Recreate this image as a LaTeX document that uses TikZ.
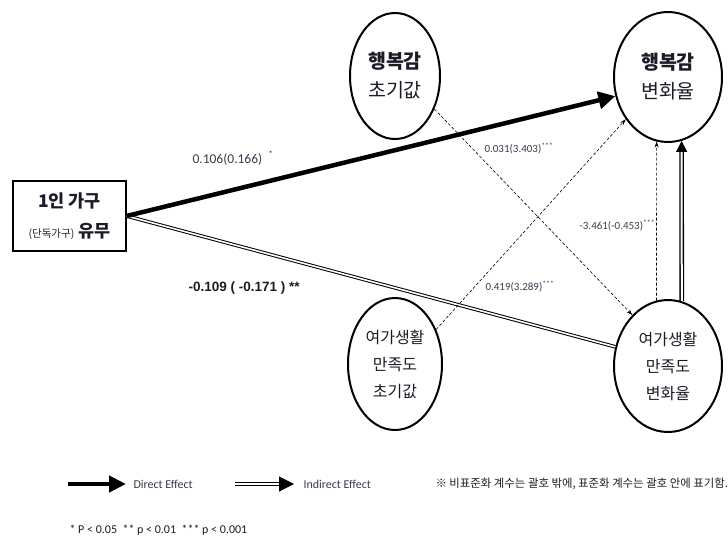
\documentclass[tikz,border=0pt]{standalone}
\usepackage{fontspec}
\setmainfont{Carlito}
\newfontfamily\kr{Noto Sans CJK KR}
\newfontfamily\arialf{Liberation Sans}
\usetikzlibrary{shapes.geometric,arrows.meta}
\definecolor{ink}{RGB}{28,28,40}
\definecolor{lab}{RGB}{55,60,78}

\begin{document}
\begin{tikzpicture}[x=1pt,y=-1pt,
  latent/.style={ellipse, draw, line width=2pt, inner sep=0pt, align=center,
    text=ink, font=\kr\fontsize{19.5}{29}\selectfont},
  latent3/.style={latent, font=\kr\fontsize{16}{27}\selectfont},
  direct/.style={line width=4.5pt, -{Triangle[length=17pt,width=17pt]}},
  indirect/.style={double, line width=1pt, double distance=1.6pt},
  thinpath/.style={densely dashed, line width=0.6pt, -{Stealth[length=6pt,width=4pt]}},
  coef/.style={anchor=west, text=lab, font=\fontsize{11}{13}\selectfont},
  legendtxt/.style={anchor=west, text=lab, font=\fontsize{12}{14}\selectfont},
]
\useasboundingbox (0,0) rectangle (728,539);

% exogenous indicator box
\node[draw, line width=1.3pt, minimum width=113pt, minimum height=70pt, align=center,
  text=ink, font=\kr\fontsize{17.5}{30}\selectfont] (box) at (69.5,216)
  {{\bfseries 1인 가구}\\{\fontsize{10.5}{12}\selectfont(단독가구)} {\bfseries 유무}};

% latent variables
\node[latent, minimum width=90pt, minimum height=126pt] (hc) at (395,76)
  {{\bfseries 행복감}\\초기값};
\node[latent, minimum width=108pt, minimum height=130pt] (hv) at (668,77)
  {{\bfseries 행복감}\\변화율};
\node[latent3, minimum width=94pt, minimum height=132pt] (wc) at (395,364)
  {여가생활\\만족도\\초기값};
\node[latent3, minimum width=108pt, minimum height=132pt] (wv) at (668,366)
  {여가생활\\만족도\\변화율};

% paths
\draw[indirect] (box.east) -- (wv.160);
\draw[direct] (box.east) -- (hv.200);
\draw[thinpath] (hc.-40) -- (wv.125);
\draw[thinpath] (wc.40) -- (hv.-135);
\draw[thinpath] (wv.100) -- (hv.-100);
\draw[double, line width=1.3pt, double distance=2pt,
  -{Triangle[length=11pt,width=11pt]}] (wv.78) -- (hv.-78);

% path coefficients
\node[coef, font=\fontsize{13.5}{15}\selectfont] (c1) at (189,158)
  {0.106(0.166)\ \ \textsuperscript{*}};
\node[anchor=west, text=ink, font=\arialf\bfseries\fontsize{13.5}{15}\selectfont] (c2) at (185,288)
  {-0.109 ( -0.171 ) **};
\node[coef] (c3) at (481,149) {0.031(3.403)\textsuperscript{***}};
\node[coef] (c4) at (482,287) {0.419(3.289)\textsuperscript{***}};
\node[coef] (c5) at (576,226) {-3.461(-0.453)\textsuperscript{***}};

% legend
\coordinate (d1) at (68,484);
\coordinate (d2) at (126,484);
\draw[line width=4.5pt, -{Triangle[length=17pt,width=16pt]}] (d1) -- (d2);
\node[legendtxt] (dl) at (130,484) {Direct Effect};
\coordinate (i1) at (235,484);
\coordinate (i2) at (294,484);
\draw[double, line width=1.1pt, double distance=2pt,
  -{Triangle[length=15pt,width=15pt]}] (i1) -- (i2);
\node[legendtxt] (il) at (300,484) {Indirect Effect};
\node[anchor=west, text=ink, font=\kr\fontsize{11.4}{13}\selectfont] (note) at (432,484)
  {※ 비표준화 계수는 괄호 밖에, 표준화 계수는 괄호 안에 표기함.};
\node[anchor=west, text=ink, font=\fontsize{12}{14}\selectfont] (sig) at (66,530)
  {* P < 0.05\ \ ** p < 0.01\ \ *** p < 0.001};
\end{tikzpicture}
\end{document}
